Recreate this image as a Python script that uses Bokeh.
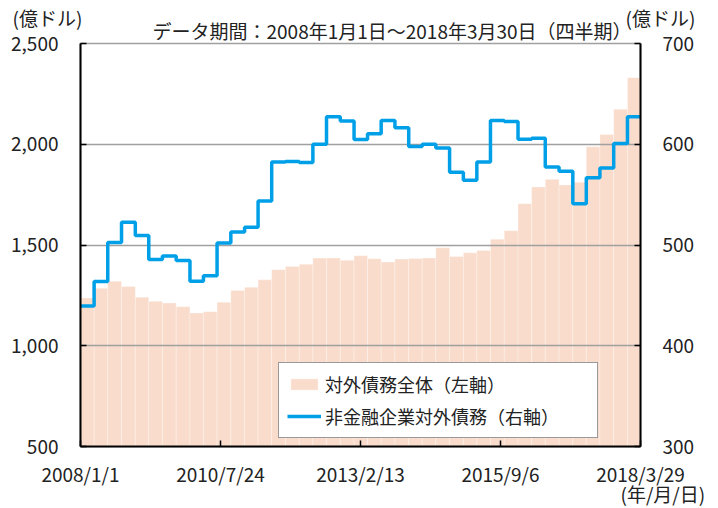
import pandas as pd
from bokeh.plotting import figure
from bokeh.models import (Range1d, LinearAxis, FixedTicker, NumeralTickFormatter,
                          Title, Legend, LegendItem, ColumnDataSource)
from bokeh.embed import file_html
from bokeh.resources import INLINE

# ---------------- data ----------------
period_start = "2008/1/1"
period_end = "2018/3/29"
data_end = "2018/3/31"
quarters = list(pd.date_range("2008-01-01", periods=41, freq="QS"))

# 対外債務全体（左軸, 億ドル）
total_debt = [1237, 1285, 1320, 1294, 1241, 1221, 1212, 1194, 1163, 1169,
              1216, 1274, 1290, 1327, 1377, 1393, 1405, 1435, 1436, 1424,
              1447, 1432, 1416, 1430, 1433, 1436, 1486, 1443, 1461, 1473,
              1529, 1571, 1705, 1788, 1826, 1798, 1811, 1987, 2048, 2174,
              2330]

# 非金融企業対外債務（右軸, 億ドル）
nonfin_debt = [439.5, 463.7, 502.5, 522.7, 509.4, 485.6, 489.0, 484.6, 464.0, 469.6,
               502.0, 512.8, 517.7, 543.6, 582.4, 582.9, 581.8, 600.0, 627.2, 623.0,
               604.6, 610.5, 623.5, 616.3, 597.7, 600.0, 596.4, 572.1, 564.2, 582.4,
               623.5, 622.6, 605.0, 606.0, 577.4, 573.1, 541.0, 566.8, 576.4, 600.7,
               627.2]

x_tick_labels = ["2008/1/1", "2010/7/24", "2013/2/13", "2015/9/6", "2018/3/29"]
left_ticks = [500, 1000, 1500, 2000, 2500]
right_ticks = [300, 400, 500, 600, 700]

title_text = "データ期間：2008年1月1日～2018年3月30日（四半期）"
unit_text = "(億ドル)"
date_unit_text = "(年/月/日)"
legend_labels = ["対外債務全体（左軸）", "非金融企業対外債務（右軸）"]

# ---------------- derived positions ----------------
t0 = pd.to_datetime(period_start, format="%Y/%m/%d")
def to_days(ts):
    return (ts - t0).days

q_left = [to_days(q) for q in quarters]
q_right = q_left[1:] + [to_days(pd.to_datetime(data_end, format="%Y/%m/%d"))]
x_end = to_days(pd.to_datetime(period_end, format="%Y/%m/%d"))
tick_pos = [to_days(pd.to_datetime(s, format="%Y/%m/%d")) for s in x_tick_labels]

bar_src = ColumnDataSource(dict(left=q_left, right=q_right, top=total_debt,
                                bottom=[left_ticks[0]] * len(total_debt)))
step_src = ColumnDataSource(dict(x=q_left + [q_right[-1]],
                                 y=nonfin_debt + [nonfin_debt[-1]]))

FONT = "Noto Sans CJK JP"
TXT = "#222222"
H = 27.5  # approx. text box height of 19px font

p = figure(width=718, height=508, output_backend="svg", toolbar_location=None,
           x_range=Range1d(0, x_end), y_range=Range1d(left_ticks[0], left_ticks[-1]),
           min_border_left=80, min_border_right=78, min_border_top=43, min_border_bottom=62)
p.extra_y_ranges = {"right": Range1d(right_ticks[0], right_ticks[-1])}
p.background_fill_color = "white"
p.border_fill_color = "white"
p.outline_line_color = "#A0A0A0"
p.outline_line_width = 1.5

bars = p.quad(left="left", right="right", top="top", bottom="bottom", source=bar_src,
              fill_color="#F9DCCB", line_color="white", line_alpha=0.5, line_width=0.6)
bars.level = "image"

line = p.step(x="x", y="y", mode="after", source=step_src, y_range_name="right",
              line_color="#00A0E9", line_width=3.5)

# grid
p.xgrid.visible = False
p.ygrid.ticker = FixedTicker(ticks=left_ticks)
p.ygrid.grid_line_color = "#A0A0A0"
p.ygrid.grid_line_width = 1.5

def style_axis(ax, standoff):
    ax.axis_line_color = "black"
    ax.axis_line_width = 2
    ax.major_tick_in = 6
    ax.major_tick_out = 0
    ax.major_tick_line_color = "black"
    ax.major_tick_line_width = 1.5
    ax.minor_tick_line_color = None
    ax.major_label_standoff = standoff
    ax.major_label_text_font = FONT
    ax.major_label_text_font_size = "19px"
    ax.major_label_text_color = TXT

# bottom axis
xa = p.xaxis[0]
xa.ticker = FixedTicker(ticks=tick_pos)
xa.major_label_overrides = {t: s for t, s in zip(tick_pos, x_tick_labels)}
style_axis(xa, 13)

# left axis
ya = p.yaxis[0]
ya.ticker = FixedTicker(ticks=left_ticks)
ya.formatter = NumeralTickFormatter(format="0,0")
style_axis(ya, 22)

# right axis
ra = LinearAxis(y_range_name="right", ticker=FixedTicker(ticks=right_ticks),
                formatter=NumeralTickFormatter(format="0,0"))
style_axis(ra, 22)
p.add_layout(ra, "right")

# legend
legend = Legend(items=[LegendItem(label=legend_labels[0], renderers=[bars]),
                       LegendItem(label=legend_labels[1], renderers=[line])],
                location=(198, 8))
legend.label_text_font = FONT
legend.label_text_font_size = "18px"
legend.label_text_color = TXT
legend.glyph_width = 34
legend.glyph_height = 14
legend.label_standoff = 4
legend.label_width = 264
legend.padding = 8
legend.spacing = 6
legend.border_line_color = "#333333"
legend.border_line_width = 1.5
legend.background_fill_color = "white"
legend.background_fill_alpha = 1.0
p.add_layout(legend)

def make_title(text, offset, panel_height):
    return Title(text=text, align="left", offset=offset, vertical_align="middle",
                 standoff=panel_height - 2 - H, text_font=FONT, text_font_size="19px",
                 text_font_style="normal", text_color=TXT)

# titles above: first is closest to the frame
p.add_layout(make_title(title_text, 72, 26), "above")
p.add_layout(make_title(unit_text, -68, 0), "above")
p.add_layout(make_title(unit_text, 545, 0), "above")
# below the x axis
p.add_layout(make_title(date_unit_text, 540, 8), "below")

open("out.html", "w").write(file_html(p, INLINE))
